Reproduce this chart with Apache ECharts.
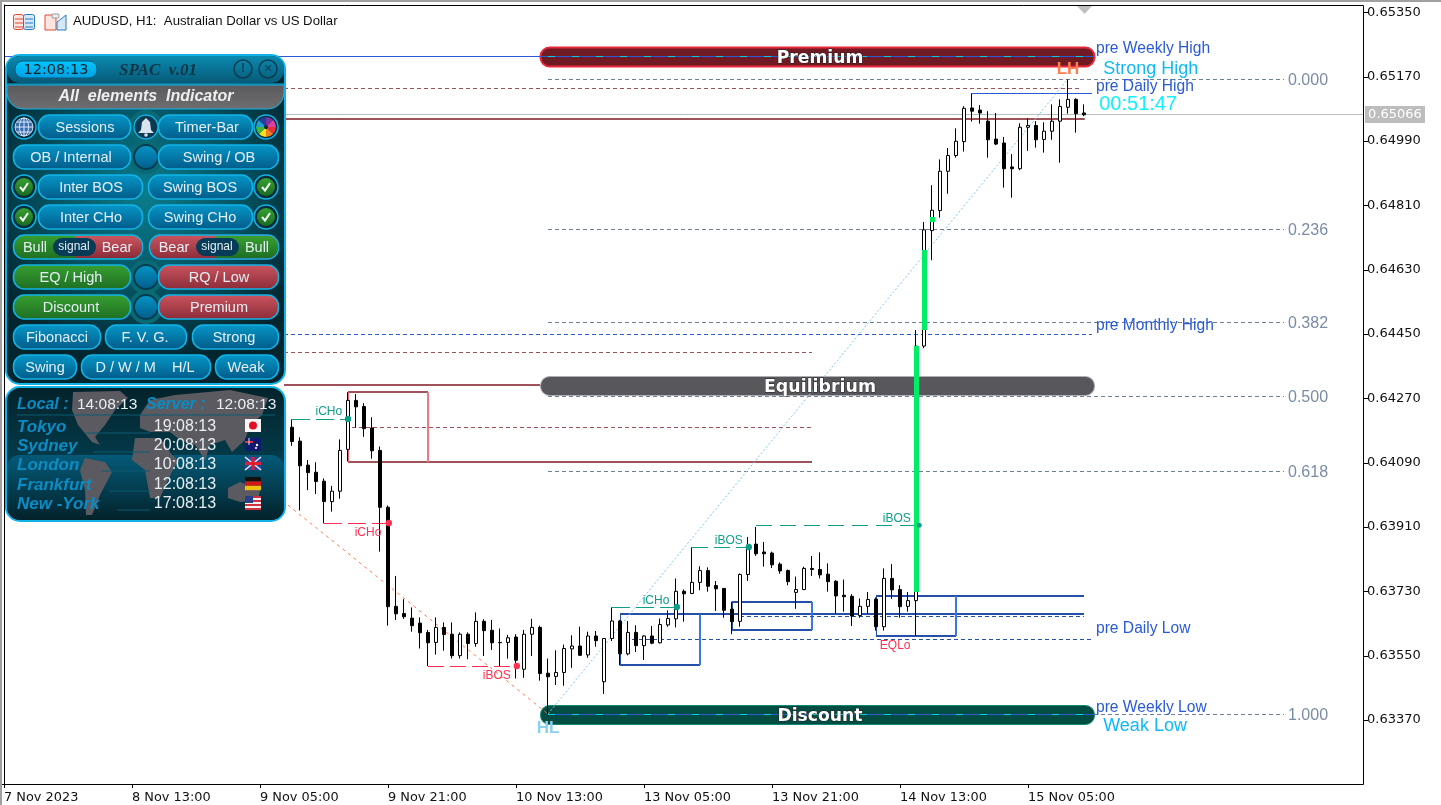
<!DOCTYPE html>
<html><head><meta charset="utf-8"><style>html,body{margin:0;padding:0;background:#fff}#c{width:1441px;height:805px}</style>
<script src="https://cdn.jsdelivr.net/npm/echarts@6/dist/echarts.min.js"></script></head><body><div id="c"></div>
<script>
// prices in 1/100000 units (points)
const opens=[64091,
64189,64150,64083,64063,64038,63981,64010,64127,64264,64247,
64187,64124,63965,63688,63668,63655,63641,63615,63587,63629,
63610,63550,63610,63584,63646,63621,63587,63587,63602,63512,
63610,63629,63501,63492,63503,63569,63577,63552,63605,63477,
63598,63647,63555,63615,63578,63605,63586,63636,63653,63730,
63724,63755,63788,63746,63738,63680,63646,63777,63862,63840,
63837,63806,63788,63727,63735,63794,63791,63778,63758,63719,
63716,63662,63688,63708,63631,63766,63735,63688,63704,64416,
64739,64795,64905,64949,64988,65082,65076,65045,64995,64984,
64917,64912,65028,65033,64994,65017,65045,65084,65106,65068];
const closes=[64189,
64149,64081,64062,64037,63981,64010,64124,64264,64246,64185,
64123,63965,63687,63667,63659,63634,63614,63586,63629,63609,
63550,63610,63584,63646,63620,63586,63586,63600,63537,63610,
63629,63500,63491,63503,63570,63577,63551,63605,63592,63598,
63647,63555,63615,63578,63605,63585,63637,63654,63730,63723,
63755,63788,63744,63737,63677,63645,63777,63850,63835,63835,
63804,63787,63757,63735,63794,63791,63776,63757,63717,63715,
63661,63688,63707,63631,63766,63734,63687,63704,64416,64741,
64796,64905,64949,64989,65081,65073,65068,64993,64981,64912,
64912,65028,65033,64993,65017,65045,65086,65106,65066,65063];
const lows=[64080,
64137,63956,64013,64002,63920,63953,63989,64093,64188,64162,
64101,63841,63634,63650,63653,63617,63570,63521,63553,63564,
63542,63542,63540,63575,63549,63566,63521,63542,63486,63488,
63549,63480,63387,63468,63466,63516,63549,63544,63575,63443,
63591,63523,63551,63560,63538,63582,63584,63631,63629,63645,
63722,63733,63729,63675,63656,63610,63631,63759,63829,63799,
63795,63779,63747,63681,63733,63773,63766,63729,63668,63673,
63633,63656,63668,63620,63620,63709,63656,63673,63605,64410,
64656,64775,64842,64943,64960,65044,65038,64943,64978,64859,
64831,64908,64962,64971,64957,64993,64929,65066,65013,65059];
const highs=[64200,
64211,64161,64097,64091,64046,64025,64155,64287,64282,64256,
64217,64135,63970,63773,63708,63685,63657,63622,63657,63643,
63643,63615,63615,63671,63652,63650,63626,63608,63610,63622,
63653,63634,63542,63565,63581,63607,63631,63617,63619,63598,
63685,63650,63647,63635,63607,63633,63654,63677,63766,63735,
63853,63800,63797,63759,63738,63701,63780,63882,63910,63868,
63841,63811,63791,63771,63799,63829,63839,63808,63761,63763,
63722,63710,63728,63713,63794,63806,63747,63728,64461,64763,
64866,64938,64970,65025,65087,65123,65090,65073,65068,65001,
64953,65039,65053,65045,65042,65092,65106,65162,65109,65092];
const timeTicks=['7 Nov 2023','8 Nov 13:00','9 Nov 05:00','9 Nov 21:00','10 Nov 13:00','13 Nov 05:00','13 Nov 21:00','14 Nov 13:00','15 Nov 05:00'];
const priceTicks=[63370,63550,63730,63910,64090,64270,64450,64630,64810,64990,65170,65350];
const fibLevels=['0.000','0.236','0.382','0.500','0.618','1.000'];
const fibPrices=[65163,64744,64484,64276,64066,63387];
const lastPrice=65066;

const BARS=170, LEAD=35;
const categories=Array.from({length:BARS},(_,i)=>i%16===0&&timeTicks[i/16]?timeTicks[i/16]:'b'+i);
const candleData=Array.from({length:BARS},(_,i)=>{const k=i-LEAD;return k>=0&&k<opens.length?[opens[k],closes[k],lows[k],highs[k]]:['-','-','-','-'];});

const DR='#a0525a',BL='#2450a8',BLD='#2a5ad8',TE='#0f9d88',RD='#ff3050',GR='#6f7f95';
// x in bar index, p in points
const S=(x1,p1,x2,p2,c,w,d)=>({k:'s',x1,p1,x2,p2,c,w,d});
const below=[
 {k:'p',x1:67,x2:136.25,p1:65252,p2:65199,fill:'#701a24',stroke:'#e8283c',lw:2},
 {k:'p',x1:67,x2:136.25,p1:64332,p2:64279,fill:'#57575c',stroke:'#b0b0b4',lw:1},
 {k:'p',x1:67,x2:136.25,p1:63412,p2:63359,fill:'#034d42',stroke:'#0f8a75',lw:1},
 S(0,lastPrice,169.9,lastPrice,'#bdbdbd',1),
 ...fibPrices.map(p=>S(68,p,160,p,GR,1,[4,3])),
 S(68,63387,136.25,63387,'#2a5ad8',1),
 S(68,63387,136.25,63387,'#12c8e0',1,[7,17]),
 S(0,65227,136.25,65227,'#2a5ad8',1),
 S(68,65227,136.25,65227,'#12c8e0',1,[7,17]),
 S(35,65137,134.6,65137,DR,1,[4,3]),
 S(121,65123,136,65123,BLD,1),
 S(35,65051,135.1,65051,DR,2),
 S(35,64449,136,64449,BLD,1,[4,3]),
 S(35,64399,101,64399,DR,1,[4,3]),
 S(35,64307,67,64307,DR,2),
 S(43.5,64189,101,64189,DR,1,[4,3]),
 S(43,64091,101,64091,DR,2),
 S(43,64287,53,64287,DR,2),
 S(43,64287,43,64091,'#f0606a',1),
 S(53,64287,53,64091,'#f07880',2),
 // internal structure
 S(36,64212,43,64212,TE,1,[18,6]),
 S(40,63921,48,63921,RD,1,[18,6]),
 S(53,63521,64,63521,RD,1,[16,6]),
 S(76,63686,84,63686,TE,1,[18,6]),
 S(86,63854,93,63854,TE,1,[16,6]),
 S(94,63915,114,63915,TE,1,[16,8]),
 S(109.5,63605,114,63605,RD,1,[3,2]),
 // order blocks
 S(77,63666,135,63666,BL,2),
 S(77,63524,87,63524,BL,2),S(77,63666,77,63524,BL,1),S(87,63666,87,63524,'#3a78e8',2),
 S(91,63700,101,63700,BL,2),S(91,63622,101,63622,BL,2),S(91,63700,91,63622,BL,1),S(101,63700,101,63622,'#3a78e8',2),
 S(109,63717,135,63717,BL,2),S(109,63605,119,63605,BL,2),S(109,63717,109,63605,BL,1),S(119,63717,119,63605,'#3a78e8',2),
 S(78.5,63596,136,63596,BL,1,[4,3]),
 S(92,63661,135,63661,BL,1,[4,3]),
 // zigzag
 S(35.5,63971,68,63387,'#ff7a50',1,[3,4]),
 S(68,63387,133,65163,'#7fcbe8',1,[2,2])
];
const T=(x,p,text,fill,size,o)=>Object.assign({k:'t',x,p,text,fill,size},o||{});
const FS='"Liberation Sans",Arial,sans-serif';
const PILL={align:'center',weight:'bold',family:'"DejaVu Sans"',stroke:'#222',lw:1};
const above=[
 {k:'g',x:114,p1:63728,p2:64416,fill:'#00ee66'},
 {k:'g',x:115,p1:64461,p2:64684,fill:'#00ee66'},
 {k:'g',x:116,p1:64763,p2:64777,fill:'#00ee66'},
 {k:'d',x:43,p:64212,fill:TE},{k:'d',x:48.1,p:63921,fill:RD},{k:'d',x:64.1,p:63521,fill:RD},
 {k:'d',x:84.1,p:63686,fill:TE},{k:'d',x:93.1,p:63854,fill:TE},{k:'d',x:114.4,p:63915,fill:TE,r:2.5},
 T(40.6,64237,'iCHo',TE,12,{align:'center'}),T(45.5,63899,'iCHo',RD,12,{align:'center'}),
 T(61.6,63499,'iBOS',RD,12,{align:'center'}),T(81.5,63708,'iCHo',TE,12,{align:'center'}),
 T(90.6,63876,'iBOS',TE,12,{align:'center'}),T(111.6,63938,'iBOS',TE,12,{align:'center'}),
 T(111.4,63582,'EQLo',RD,12,{align:'center'}),
 T(133,65193,'LH','#ff7d50',17,{align:'center',weight:'bold'}),
 T(68,63350,'HL','#8ad0f0',17,{align:'center',weight:'bold'}),
 T(102,65225,'Premium','#fff',17.2,PILL),
 T(102,64305,'Equilibrium','#fff',17.4,PILL),
 T(102,63385,'Discount','#fff',17.2,PILL),
 T(136.5,65252,'pre Weekly High',BLD,15.6),T(137.4,65196,'Strong High','#10b8f8',18),
 T(136.5,65146,'pre Daily High',BLD,15.6),T(136.9,65095,'00:51:47','#10f0ff',20),
 T(136.5,64477,'pre Monthly High',BLD,15.6),T(136.5,63630,'pre Daily Low',BLD,15.6),
 T(136.5,63409,'pre Weekly Low',BLD,15.6),T(137.4,63356,'Weak Low','#10b8f8',18),
 ...fibLevels.map((l,i)=>T(160.5,fibPrices[i],l,'#7a8ba5',16)),
 ...priceTicks.map(p=>({k:'yt',p})),
 {k:'tag',p:lastPrice,text:(lastPrice/1e5).toFixed(5)}
];

function render(table){return function(params,api){
 const t=table[params.dataIndex];
 if(t.k==='s'){const a=api.coord([t.x1,t.p1]),b=api.coord([t.x2,t.p2]);
  const snap=v=>t.w%2===1?Math.round(v)+0.5:Math.round(v);
  if(t.p1===t.p2){a[1]=b[1]=snap(a[1]);}
  if(t.x1===t.x2){a[0]=b[0]=snap(a[0]);}
  return {type:'line',shape:{x1:a[0],y1:a[1],x2:b[0],y2:b[1]},style:{stroke:t.c,lineWidth:t.w,lineDash:t.d||null,fill:null}};}
 if(t.k==='p'){const a=api.coord([t.x1,t.p1]),b=api.coord([t.x2,t.p2]);
  return {type:'rect',shape:{x:a[0]+.5,y:Math.round(a[1])+.5,width:b[0]-a[0],height:Math.round(b[1]-a[1]),r:9},style:{fill:t.fill,stroke:t.stroke,lineWidth:t.lw}};}
 if(t.k==='g'){const a=api.coord([t.x,t.p2]),b=api.coord([t.x,t.p1]);
  return {type:'rect',shape:{x:Math.round(a[0])-2,y:Math.round(a[1]),width:5,height:Math.round(b[1]-a[1])},style:{fill:t.fill}};}
 if(t.k==='d'){const a=api.coord([t.x,t.p]);
  return {type:'circle',shape:{cx:a[0],cy:a[1],r:t.r||3.2},style:{fill:t.fill}};}
 if(t.k==='t'){const a=api.coord([t.x,t.p]);
  return {type:'text',x:a[0],y:a[1]+1.5,style:{text:t.text,fill:t.fill,fontSize:t.size,fontFamily:t.family||FS,fontWeight:t.weight||'normal',align:t.align||'left',verticalAlign:'middle',stroke:t.stroke||null,lineWidth:t.lw||0}};}
 if(t.k==='yt'){const a=api.coord([0,t.p]);const y=Math.round(a[1])+.5;
  return {type:'line',shape:{x1:1364,y1:y,x2:1368,y2:y},style:{stroke:'#000',lineWidth:1}};}
 if(t.k==='tag'){const a=api.coord([0,t.p]);
  return {type:'group',children:[
   {type:'rect',shape:{x:1365,y:Math.round(a[1])-8,width:60,height:17},style:{fill:'#bdbdbd'}},
   {type:'text',x:1395,y:a[1]+1,style:{text:t.text,fill:'#fff',fontSize:13,fontFamily:'"DejaVu Sans"',align:'center',verticalAlign:'middle'}}]};}
};}

// ---------- panels ---------
const G=[];const Z=100;
const lg=(a,b)=>({type:'linear',x:0,y:0,x2:0,y2:1,colorStops:[{offset:0,color:a},{offset:1,color:b}]});
function rr(x,y,w,h,r,fill,stroke,lw){G.push({type:'rect',z:Z,shape:{x,y,width:w,height:h,r},style:{fill:fill||'none',stroke:stroke||null,lineWidth:lw||1}});}
function cc(x,y,r,fill,stroke,lw){G.push({type:'circle',z:Z,shape:{cx:x,cy:y,r},style:{fill:fill||'none',stroke:stroke||null,lineWidth:lw||1}});}
function tx(x,y,text,size,fill,o){o=o||{};G.push({type:'text',z:Z+1,x,y,style:{text,fontSize:size,fill,fontFamily:o.family||FS,fontWeight:o.weight||'normal',fontStyle:o.style||'normal',align:o.align||'center',verticalAlign:'middle'}});}
function ln(x1,y1,x2,y2,c,w){G.push({type:'line',z:Z,shape:{x1,y1,x2,y2},style:{stroke:c,lineWidth:w||1}});}
function pg(pts,fill){G.push({type:'polygon',z:Z,shape:{points:pts},style:{fill}});}
function pl(pts,c,w){G.push({type:'polyline',z:Z,shape:{points:pts},style:{stroke:c,lineWidth:w,fill:'none'}});}

// frame
ln(0,1,1441,1,'#a0a0a0',2);ln(1,0,1,805,'#a0a0a0',2);
G.push({type:'rect',z:Z-1,shape:{x:4.5,y:5.5,width:1359,height:779},style:{fill:'none',stroke:'#000',lineWidth:1}});
pg([[1077,6],[1092,6],[1084.5,14]],'#c0c0c0');
// title icons
rr(13.5,14.5,10,15,2,'#fde4de','#e0483c',1);rr(23.5,14.5,11,15,2,'#d4e8f8','#2a7ac0',1);
[19,23,27].forEach(y=>{ln(15,y,23,y,'#e0483c',1);ln(25,y,33,y,'#2a7ac0',1);});
G.push({type:'polygon',z:Z,shape:{points:[[45,15],[56,15],[56,30],[45,30]]},style:{fill:'#fde4de',stroke:'#e0483c'}});
G.push({type:'polygon',z:Z,shape:{points:[[57,22],[66,15],[66,30],[57,30]]},style:{fill:'#d4e8f8',stroke:'#2a7ac0'}});
rr(52,14,7,4,1,'#eee','#999',1);

// control panel
rr(6,55,279,329,14,{type:'radial',x:.5,y:.42,r:.62,colorStops:[{offset:0,color:'#0a7d8c'},{offset:.55,color:'#045262'},{offset:1,color:'#03252e'}]},'#12b4e8',2);
rr(7,56,277,27,13,lg('#0a8ab0','#075a78'),null);
ln(7,84,284,84,'#12b4e8',1);
rr(15,61,82,17,8,lg('#00c8ff','#009ee0'),'#0a5a80',1);
tx(56,70.5,'12:08:13',14.5,'#08222e',{family:'"DejaVu Sans"'});
tx(158,70.5,'SPAC  v.01',17,'#123544',{family:'"Liberation Serif",serif',weight:'bold',style:'italic'});
cc(243,69,9,'none','#0d3c50',1.5);tx(243,69,'!',12,'#0d3c50',{weight:'bold'});
cc(268,69,9,'none','#0d3c50',1.5);tx(268,69,'✕',11,'#0d3c50',{family:'"DejaVu Sans"'});
rr(7,85,277,24,[0,0,16,16],lg('#5a5a5c','#6e6e70'),'#12b4e8',1);
tx(146,97,'All  elements  Indicator',16,'#eee',{weight:'bold',style:'italic'});

const BTN=lg('#0598c8','#025a88'),GRN=lg('#38a030','#1e6e24'),RED=lg('#cc5560','#8a2c38');
function btn(x,w,cy,fill,label,lc){rr(x+.5,cy-12,w,24,11,fill,'#12b4e8',1.5);if(label)tx(lc,cy+.5,label,14.5,'#e4eef2');}
function dock(cy){cc(146,cy,17,'#0a6a74',null);cc(146,cy,12,lg('#0598c8','#025a88'),'#063c50',2);}
function chk(x,cy){cc(x,cy,12,'#032e3a','#12b4e8',1.5);cc(x,cy,9,lg('#38a030','#1a6a24'));pl([[x-4,cy],[x-1,cy+3.5],[x+4,cy-4]],'#f0fff0',2);}
[127,157,277,307].forEach(dock);
// row 1
cc(24,127,12,'#032e3a','#12b4e8',1.5);cc(24,127,9,'#3a6fae','#c8d8f0',1);
ln(15,127,33,127,'#dde8ff',1);ln(24,118,24,136,'#dde8ff',1);ln(17,122,31,122,'#dde8ff',1);ln(17,132,31,132,'#dde8ff',1);
G.push({type:'ellipse',z:Z,shape:{cx:24,cy:127,rx:4.5,ry:9},style:{fill:'none',stroke:'#dde8ff',lineWidth:1}});
btn(38,92,127,BTN,'Sessions',85);btn(158,94,127,BTN,'Timer-Bar',207);
cc(146,127,12,'#0c3a50','#12b4e8',1.5);
pg([[146,118],[150,122],[151,130],[154,133],[138,133],[141,130],[142,122]],'#d8e4f0');cc(146,135,1.8,'#d8e4f0');
cc(266,127,12,'#032e3a','#12b4e8',1.5);
['#e8303a','#f08020','#f8e020','#40b840','#20a0d0','#2040a0','#8030a0','#e040a0'].forEach((c,i)=>{
 G.push({type:'sector',z:Z,shape:{cx:266,cy:127,r:10,r0:2,startAngle:i*Math.PI/4,endAngle:(i+1)*Math.PI/4},style:{fill:c}});});
// row 2
btn(13,117,157,BTN,'OB / Internal',71);btn(158,120,157,BTN,'Swing / OB',219);
// rows 3, 4
chk(24,187);chk(266,187);chk(24,217);chk(266,217);
btn(38,104,187,BTN,'Inter BOS',91);btn(148,104,187,BTN,'Swing BOS',200);
btn(38,104,217,BTN,'Inter CHo',91);btn(148,104,217,BTN,'Swing CHo',200);
// row 5
rr(13.5,235,129,24,11,lg('#38a030','#1e6e24'),'#12b4e8',1.5);
rr(75,236,67,22,[0,10,10,0],RED,null);
rr(149.5,235,129,24,11,RED,'#12b4e8',1.5);
rr(216,236,62,22,[0,10,10,0],GRN,null);
rr(53,238,43,18,9,'#063c58',null);rr(196,238,43,18,9,'#063c58',null);
tx(35,247.5,'Bull',14.5,'#e4eef2');tx(74,246.5,'signal',12,'#e4eef2');tx(117,247.5,'Bear',14.5,'#e4eef2');
tx(174,247.5,'Bear',14.5,'#e4eef2');tx(217,246.5,'signal',12,'#e4eef2');tx(257,247.5,'Bull',14.5,'#e4eef2');
// rows 6, 7
btn(13,117,277,GRN,'EQ / High',71);btn(158,120,277,RED,'RQ / Low',219);
btn(13,117,307,GRN,'Discount',71);btn(158,120,307,RED,'Premium',219);
// rows 8, 9
btn(13,87,337,BTN,'Fibonacci',57);btn(105,81,337,BTN,'F. V. G.',145);btn(192,86,337,BTN,'Strong',234);
btn(13,63,367,BTN,'Swing',45);btn(81,129,367,BTN,'D / W / M    H/L',145);btn(215,63,367,BTN,'Weak',246);

// clock panel
rr(6,387,279,134,14,lg('#03222a','#045066'),'#12b4e8',2);
rr(7,455,277,65,13,lg('#045a78','#03222a'),null);
const LAND='#5a5a60';
pg([[73,392],[120,391],[128,398],[115,410],[105,425],[95,437],[100,445],[92,442],[78,425],[72,410]],LAND);
pg([[85,458],[105,462],[112,472],[100,495],[92,515],[86,515],[85,490],[80,470]],LAND);
pg([[135,438],[160,438],[172,455],[178,460],[168,480],[160,498],[150,498],[145,470],[132,460]],LAND);
pg([[140,415],[150,400],[175,395],[230,390],[268,398],[262,415],[250,425],[245,440],[232,452],[225,440],[210,445],[205,460],[195,445],[180,440],[170,432],[150,432],[140,428]],LAND);
pg([[228,488],[240,482],[260,490],[258,500],[240,502],[228,498]],LAND);
ln(17,415,275,415,'#0c5a70',1);
const CI={weight:'bold',style:'italic',align:'left'};
tx(17,404.5,'Local :',16,'#0a8cc4',CI);tx(77,404.5,'14:08:13',15.5,'#e8eef2',{align:'left'});
tx(146,404.5,'Server :',16,'#0a8cc4',CI);tx(216,404.5,'12:08:13',15.5,'#e8eef2',{align:'left'});
const cities=['Tokyo','Sydney','London','Frankfurt','New -York'];
const cityTimes=['19:08:13','20:08:13','10:08:13','12:08:13','17:08:13'];
const cityY=[426,445,464,484,503];
cities.forEach((c,i)=>{tx(17,cityY[i]+1,c,17,'#0a8cc4',CI);tx(185,cityY[i]+1,cityTimes[i],16,'#e8eef2');ln(85+i*8,cityY[i]+7,150,cityY[i]+7,'#0c5a70',1);});
// flags
const fx=245,fw=16,fh=13;
rr(fx,cityY[0]-7,fw,fh,0,'#f4f4f4');cc(fx+8,cityY[0]-.5,4,'#e01020');
rr(fx,cityY[1]-7,fw,fh,0,'#101a70');ln(fx,cityY[1]-3,fx+8,cityY[1]-3,'#e03040',2);ln(fx+4,cityY[1]-7,fx+4,cityY[1],'#e8e8e8',1);cc(fx+12,cityY[1],1.2,'#fff');cc(fx+11,cityY[1]+3,1,'#fff');
rr(fx,cityY[2]-7,fw,fh,0,'#2848a0');ln(fx,cityY[2]-7,fx+fw,cityY[2]+6,'#eee',1.5);ln(fx+fw,cityY[2]-7,fx,cityY[2]+6,'#eee',1.5);ln(fx+8,cityY[2]-7,fx+8,cityY[2]+6,'#e02030',3);ln(fx,cityY[2]-.5,fx+fw,cityY[2]-.5,'#e02030',3);
rr(fx,cityY[3]-7,fw,4.4,0,'#111');rr(fx,cityY[3]-2.6,fw,4.4,0,'#d01818');rr(fx,cityY[3]+1.8,fw,4.4,0,'#f0c010');
rr(fx,cityY[4]-7,fw,fh,0,'#f4f4f4');[-7,-3,1,5].forEach(d=>rr(fx,cityY[4]+d,fw,2,0,'#d03040'));rr(fx,cityY[4]-7,8,7,0,'#28408c');

const chart=echarts.init(document.getElementById('c'),null,{renderer:'canvas'});
chart.setOption({
 animation:false,backgroundColor:'#fff',
 title:{text:'AUDUSD, H1:  Australian Dollar vs US Dollar',left:73,top:15,padding:0,textStyle:{fontFamily:FS,fontSize:13.2,fontWeight:'normal',color:'#111'}},
 grid:{left:0,right:81,top:5,bottom:21,containLabel:false},
 xAxis:[
  {type:'category',data:categories,boundaryGap:true,
   axisLine:{show:true,lineStyle:{color:'#000',width:1}},
   axisTick:{show:true,alignWithLabel:true,length:4,lineStyle:{color:'#000'},interval:(i)=>i%16===0&&i<=128},
   axisLabel:{show:true,interval:(i)=>i%16===0&&i<=128,align:'left',margin:7,color:'#111',fontFamily:'"DejaVu Sans"',fontSize:12.9,hideOverlap:false},
   splitLine:{show:false}},
  {type:'value',show:false,min:-0.5,max:169.5,gridIndex:0,position:'bottom',splitLine:{show:false}}],
 yAxis:{type:'value',position:'right',offset:3,min:63191,max:65370,scale:true,
   axisLine:{show:true,lineStyle:{color:'#000',width:1}},
   axisTick:{show:false},
   axisLabel:{show:true,margin:4,padding:[5,0,0,0],color:'#111',fontFamily:'"DejaVu Sans"',fontSize:13,customValues:priceTicks,formatter:v=>(v/1e5).toFixed(5)},
   splitLine:{show:false}},
 graphic:{elements:G,z:100},
 series:[
  {name:'below',type:'custom',xAxisIndex:1,yAxisIndex:0,z:1,silent:true,clip:false,renderItem:render(below),encode:{x:0,y:1},data:below.map((t,i)=>[i,65000])},
  {name:'AUDUSD',type:'candlestick',xAxisIndex:0,yAxisIndex:0,z:3,barWidth:4,silent:true,clip:false,
   itemStyle:{color:'#fff',color0:'#000',borderColor:'#000',borderColor0:'#000',borderWidth:1},data:candleData},
  {name:'above',type:'custom',xAxisIndex:1,yAxisIndex:0,z:5,silent:true,clip:false,renderItem:render(above),encode:{x:0,y:1},data:above.map((t,i)=>[i,65000])}
 ]
});
</script></body></html>
